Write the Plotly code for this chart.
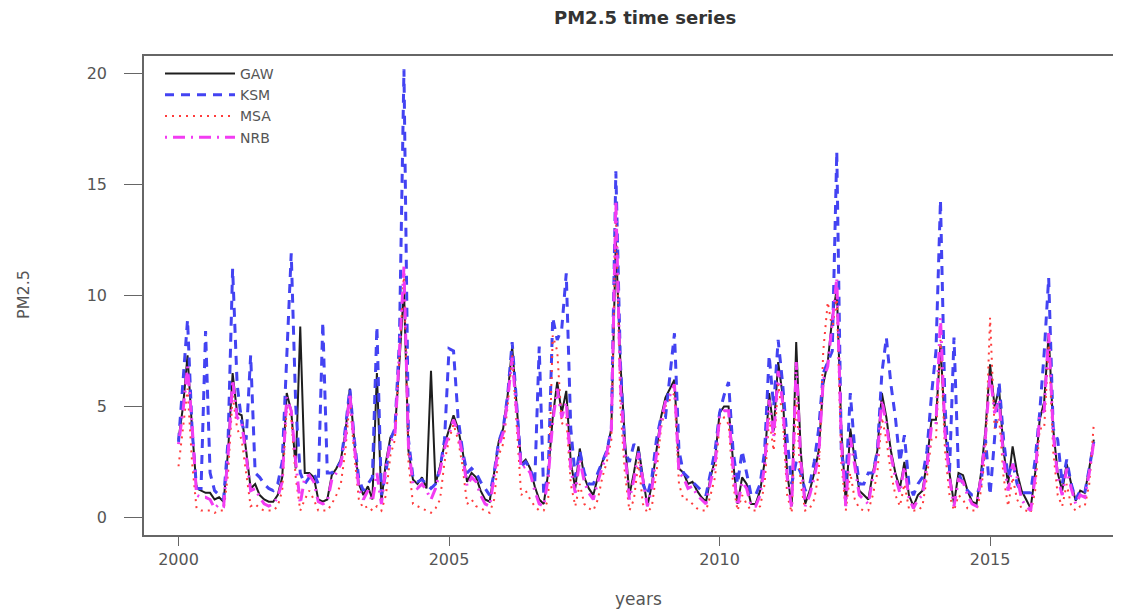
import plotly.graph_objects as go

# Monthly PM2.5, Jan 2000 - Dec 2016 (one row per year)
GAW = [
    3.5, 5.0, 7.3, 4.0, 1.3, 1.2, 1.1, 1.1, 0.8, 0.9, 0.7, 3.0,
    6.5, 4.7, 4.6, 3.0, 1.3, 1.5, 1.0, 0.8, 0.7, 0.7, 1.0, 1.8,
    5.6, 4.8, 2.2, 8.6, 2.0, 2.0, 1.8, 0.8, 0.7, 0.8, 1.9, 2.2,
    2.6, 3.8, 5.8, 3.4, 1.5, 1.0, 1.4, 0.8, 6.5, 0.7, 2.5, 3.6,
    3.9, 7.0, 10.3, 3.0, 1.7, 1.5, 1.8, 1.3, 6.6, 1.5, 2.3, 3.3,
    4.0, 4.6, 4.0, 3.0, 1.6, 2.0, 1.8, 1.2, 0.8, 0.7, 2.0, 3.4,
    4.0, 5.5, 7.7, 5.0, 2.4, 2.6, 2.2, 1.4, 0.8, 0.6, 2.0, 4.5,
    6.1, 4.7, 5.7, 2.5, 1.3, 3.1, 1.8, 1.3, 1.0, 1.8, 2.5, 3.0,
    4.0, 12.5, 7.0, 3.5, 1.0, 2.0, 3.2, 1.8, 0.5, 1.5, 3.0, 4.5,
    5.4, 5.8, 6.2, 2.2, 2.0, 1.5, 1.6, 1.2, 0.9, 0.7, 1.8, 2.6,
    4.7, 5.0, 5.0, 2.5, 0.6, 1.8, 1.5, 0.6, 0.6, 1.2, 2.5, 5.6,
    3.9, 7.0, 5.5, 2.0, 0.5, 7.9, 3.0, 0.6, 1.2, 2.0, 3.0, 6.0,
    7.0, 9.0, 10.3, 4.0, 0.6, 4.0, 2.5, 1.2, 1.0, 0.8, 2.0, 3.0,
    5.6, 4.5, 3.0, 2.0, 1.3, 2.5, 1.0, 0.5, 1.0, 1.2, 2.5, 4.4,
    4.4, 7.8, 4.0, 2.0, 0.6, 2.0, 1.9, 1.2, 0.7, 0.6, 2.0, 4.0,
    6.9, 5.0, 5.8, 3.0, 1.5, 3.2, 2.0, 1.2, 0.8, 0.4, 2.0, 4.4,
    5.2, 8.3, 4.0, 2.0, 1.2, 2.4, 1.5, 0.75, 1.2, 1.1, 2.2, 3.5,
]
KSM = [
    3.4, 6.0, 8.9, 4.0, 1.3, 1.3, 8.4, 2.0, 1.2, 1.0, 0.8, 3.5,
    11.2, 6.0, 4.3, 3.5, 7.3, 2.0, 1.8, 1.5, 1.3, 1.2, 1.5, 2.5,
    7.0, 11.9, 5.0, 2.0, 1.5, 1.8, 2.0, 1.5, 8.8, 2.0, 2.0, 2.2,
    2.5, 4.0, 5.8, 3.5, 1.7, 1.2, 1.5, 1.8, 8.6, 1.0, 2.0, 3.5,
    4.0, 8.0, 20.2, 3.5, 1.8, 1.6, 1.7, 1.5, 1.3, 1.5, 2.2, 3.5,
    7.6, 7.5, 4.5, 3.0, 2.0, 2.2, 2.0, 1.6, 1.3, 1.0, 2.0, 3.4,
    4.0, 5.5, 7.9, 5.0, 2.3, 2.5, 2.2, 1.5, 7.7, 1.0, 2.0, 9.0,
    8.0, 8.5, 11.0, 4.0, 1.8, 3.0, 2.0, 1.5, 1.5, 2.0, 2.5, 3.0,
    4.0, 15.6, 7.0, 3.0, 2.5, 3.3, 3.0, 1.5, 1.0, 1.8, 3.5, 4.5,
    4.5, 6.5, 8.3, 3.0, 2.0, 1.8, 1.6, 1.4, 1.2, 1.0, 2.0, 3.0,
    4.7, 5.5, 6.1, 3.0, 1.5, 3.0, 2.0, 1.0, 1.0, 1.5, 3.0, 7.3,
    5.0, 8.0, 6.0, 3.5, 1.5, 2.5, 2.0, 1.2, 1.5, 2.5, 4.0, 6.5,
    7.0, 7.5, 16.5, 3.0, 1.5, 5.6, 3.0, 1.5, 1.5, 2.0, 2.0, 3.0,
    6.5, 8.1, 6.0, 4.5, 2.5, 3.7, 1.5, 1.0, 1.5, 1.8, 3.0, 5.5,
    7.5, 14.3, 5.0, 2.0, 8.1, 2.0, 1.5, 1.2, 1.0, 1.0, 1.5, 3.5,
    1.0, 3.5, 6.1, 3.5, 1.8, 2.5, 1.5, 1.1, 1.1, 1.1, 2.6, 4.7,
    7.4, 10.8, 4.0, 3.5, 1.5, 2.6, 1.5, 0.8, 1.2, 1.1, 2.2, 3.4,
]
MSA = [
    2.3, 4.0, 5.8, 2.5, 0.4, 0.3, 0.3, 0.3, 0.2, 0.3, 0.3, 2.0,
    5.5, 4.0, 3.5, 2.0, 0.5, 0.6, 0.4, 0.3, 0.3, 0.3, 0.5, 1.2,
    5.0, 4.5, 1.8, 0.3, 0.8, 1.2, 0.8, 0.3, 0.3, 0.3, 0.6, 1.0,
    1.5, 3.0, 5.3, 2.8, 0.8, 0.4, 0.5, 0.3, 0.5, 0.3, 1.0, 2.8,
    3.5, 7.0, 11.0, 2.5, 0.6, 0.5, 0.4, 0.3, 0.2, 0.4, 0.8, 2.5,
    3.5, 4.2, 3.5, 2.3, 0.6, 0.8, 0.5, 0.4, 0.3, 0.2, 0.8, 2.8,
    3.3, 5.0, 7.3, 4.0, 1.0, 1.2, 0.8, 0.5, 0.3, 0.3, 0.8, 8.2,
    7.5, 4.2, 4.5, 1.5, 0.5, 1.5, 0.6, 0.4, 0.3, 0.8, 1.8, 2.5,
    3.5, 14.0, 5.0, 2.0, 0.3, 0.8, 2.5, 0.6, 0.2, 0.5, 2.0, 4.0,
    5.0, 5.3, 5.6, 1.5, 0.8, 0.8, 0.6, 0.4, 0.3, 0.3, 1.0, 1.8,
    4.2, 4.5, 4.2, 1.5, 0.3, 1.0, 0.6, 0.3, 0.3, 0.5, 1.5, 4.5,
    3.0, 6.0, 4.5, 1.0, 0.2, 5.5, 1.5, 0.3, 0.4, 0.8, 2.0, 7.5,
    9.7, 8.5, 10.0, 2.5, 0.3, 2.0, 0.8, 0.4, 0.3, 0.3, 1.0, 2.0,
    4.5, 3.5, 2.0, 1.0, 0.5, 1.5, 0.4, 0.3, 0.3, 0.5, 1.8, 3.5,
    3.5, 8.0, 3.0, 1.0, 0.3, 1.0, 0.8, 0.4, 0.3, 0.3, 1.2, 3.0,
    9.0, 4.0, 4.5, 1.8, 0.5, 1.8, 0.8, 0.4, 0.3, 0.2, 1.2, 4.0,
    4.0, 7.8, 3.0, 1.0, 0.5, 1.5, 0.5, 0.3, 0.5, 0.5, 1.5, 4.2,
]
NRB = [
    3.3, 4.8, 6.8, 4.2, 1.0, 0.9, 0.9, 0.8, 0.4, 0.6, 0.5, 2.8,
    6.2, 4.5, 4.3, 2.8, 1.2, 1.3, 0.9, 0.6, 0.5, 0.6, 0.9, 1.6,
    5.4, 4.8, 2.5, 0.6, 1.8, 1.9, 1.6, 0.7, 0.6, 0.7, 1.7, 2.0,
    2.4, 3.6, 5.6, 3.2, 1.3, 0.8, 1.2, 0.7, 2.0, 0.6, 2.3, 3.4,
    3.7, 7.5, 11.3, 3.2, 1.5, 1.3, 1.5, 1.2, 0.8, 1.3, 2.1, 3.1,
    3.8, 4.4, 3.8, 2.8, 1.4, 1.8, 1.6, 1.0, 0.6, 0.5, 1.8, 3.2,
    3.8, 5.3, 7.2, 4.6, 2.2, 2.3, 2.0, 1.2, 0.6, 0.5, 1.8, 4.3,
    5.8, 4.5, 5.2, 2.2, 1.1, 2.6, 1.6, 1.1, 0.8, 1.6, 2.3, 2.9,
    3.9, 14.3, 6.0, 3.0, 0.8, 1.7, 2.9, 1.6, 0.5, 1.3, 2.8, 4.3,
    5.2, 5.5, 6.0, 2.0, 1.8, 1.3, 1.4, 1.0, 0.8, 0.6, 1.6, 2.4,
    4.5, 4.8, 4.8, 2.2, 0.5, 1.6, 1.3, 0.5, 0.5, 1.0, 2.3, 5.3,
    3.6, 6.6, 5.2, 1.8, 0.4, 7.0, 2.6, 0.5, 1.0, 1.8, 2.8, 6.2,
    6.8, 8.8, 10.8, 3.5, 0.5, 3.6, 2.2, 1.0, 0.8, 0.6, 1.8, 2.8,
    5.3, 4.2, 2.8, 1.8, 1.1, 2.3, 0.9, 0.4, 0.8, 1.0, 2.3, 4.1,
    4.2, 9.0, 3.8, 1.8, 0.5, 1.7, 1.6, 1.0, 0.6, 0.5, 1.8, 3.7,
    6.5, 4.7, 5.3, 2.6, 1.2, 2.4, 1.8, 0.8, 0.5, 0.3, 1.8, 4.6,
    4.8, 8.3, 3.8, 1.8, 1.0, 2.2, 1.3, 0.6, 1.0, 0.9, 2.0, 3.4,
]

START_YEAR = 2000
time = [START_YEAR + i / 12 for i in range(len(GAW))]

x_ticks = [2000, 2005, 2010, 2015]
y_ticks = [0, 5, 10, 15, 20]

FONT = "DejaVu Sans, Liberation Sans, Arial, sans-serif"
GREY = "#555555"

series = [
    ("GAW", GAW, dict(color="#1e1e1e", width=2, dash="solid")),
    ("KSM", KSM, dict(color="#4343f2", width=3, dash="9px,7px")),
    ("MSA", MSA, dict(color="#ff3c3c", width=2, dash="2px,5px")),
    ("NRB", NRB, dict(color="#f23cf2", width=3, dash="2px,6px,12px,6px")),
]

fig = go.Figure()
for name, vals, line in series:
    fig.add_trace(go.Scatter(x=time, y=vals, mode="lines", name=name, line=line))

# page body has an 8px default margin; compensate so the plot lands where the reference has it
OFF = 8
W, H = 1121 - OFF, 611 - OFF
L, R, T, B = 144 - OFF, 0, 56 - OFF, 76
pw, ph = W - L - R, H - T - B


def px_x(p):
    return (p - OFF - L) / pw


def px_y(p):
    return (H - B - (p - OFF)) / ph


fig.update_layout(
    width=W, height=H,
    margin=dict(l=L, r=R, t=T, b=B, pad=0),
    paper_bgcolor="white", plot_bgcolor="white",
    font=dict(family=FONT, size=15, color=GREY),
    showlegend=True,
    legend=dict(
        x=px_x(160), y=px_y(58), xanchor="left", yanchor="top",
        bgcolor="rgba(0,0,0,0)", borderwidth=0,
        font=dict(family=FONT, size=14, color=GREY),
        itemwidth=70, tracegroupgap=0,
    ),
    xaxis=dict(
        range=[1999.362, 2017.42], tickvals=x_ticks, ticktext=[str(v) for v in x_ticks],
        ticks="outside", ticklen=9, tickcolor="#666666", tickwidth=1,
        showline=True, linecolor="#666666", linewidth=1.5, mirror=True,
        showgrid=False, zeroline=False,
        tickfont=dict(family=FONT, size=16, color=GREY),
    ),
    yaxis=dict(
        range=[-0.8, 20.8], tickvals=y_ticks, ticktext=[str(v) for v in y_ticks],
        ticks="outside", ticklen=18, tickcolor="#666666", tickwidth=1,
        showline=True, linecolor="#666666", linewidth=1.5, mirror=False,
        showgrid=False, zeroline=False, ticklabelstandoff=14,
        tickfont=dict(family=FONT, size=16, color=GREY),
    ),
    annotations=[
        dict(text="<b>PM2.5 time series</b>", xref="paper", yref="paper",
             x=px_x(645), y=px_y(18), xanchor="center", yanchor="middle",
             showarrow=False, font=dict(family=FONT, size=18, color="#333333")),
        dict(text="years", xref="paper", yref="paper",
             x=px_x(638), y=px_y(599), xanchor="center", yanchor="middle",
             showarrow=False, font=dict(family=FONT, size=17, color=GREY)),
        dict(text="PM2.5", xref="paper", yref="paper", textangle=-90,
             x=px_x(23), y=px_y(295), xanchor="center", yanchor="middle",
             showarrow=False, font=dict(family=FONT, size=16, color=GREY)),
    ],
)

fig.write_html("out.html")
